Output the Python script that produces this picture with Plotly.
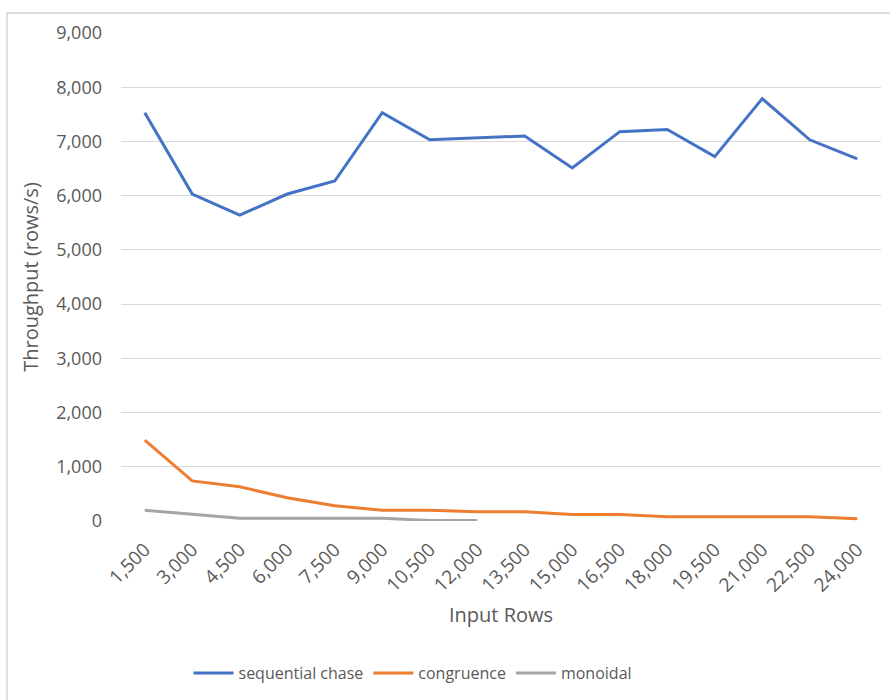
import plotly.graph_objects as go

input_rows = [1500, 3000, 4500, 6000, 7500, 9000, 10500, 12000, 13500, 15000,
              16500, 18000, 19500, 21000, 22500, 24000]
tick_labels = [f"{v:,}" for v in input_rows]

sequential_chase = [7530, 6030, 5640, 6030, 6270, 7530, 7030, 7070, 7100, 6510,
                    7180, 7220, 6720, 7790, 7030, 6680]
congruence = [1490, 740, 630, 430, 280, 200, 200, 170, 170, 120,
              120, 80, 80, 80, 80, 40]
monoidal = [200, 130, 50, 50, 50, 50, 10, 10, None, None,
            None, None, None, None, None, None]

series = [
    ("sequential chase", sequential_chase, "#4472C4"),
    ("congruence", congruence, "#ED7D31"),
    ("monoidal", monoidal, "#A5A5A5"),
]

FONT = "Open Sans"
TXT = "#595959"

fig = go.Figure()
for name, vals, color in series:
    fig.add_trace(go.Scatter(
        x=tick_labels, y=vals, name=name, mode="lines",
        line=dict(color=color, width=3), connectgaps=False,
    ))

L, R, T, B = 121, 9, 33, 179
W, H = 890, 700
pw, ph = W - L - R, H - T - B

def px_x(p):
    return (p - L) / pw

def px_y(p):
    return (H - B - p) / ph

fig.update_layout(
    width=W, height=H,
    margin=dict(l=L, r=R, t=T, b=B),
    paper_bgcolor="white", plot_bgcolor="white",
    font=dict(family=FONT, color=TXT, size=18),
    showlegend=True,
    legend=dict(orientation="h", x=px_x(413), xanchor="center",
                y=px_y(673), yanchor="middle",
                font=dict(size=16, color=TXT), itemwidth=40,
                tracegroupgap=0),
    xaxis=dict(
        type="category", range=[-0.5, len(input_rows) - 0.5],
        showgrid=False, zeroline=False, showline=False,
        tickangle=-45, tickfont=dict(size=19, color=TXT),
        ticks="outside", ticklen=9, tickcolor="rgba(0,0,0,0)",
        title=dict(text="Input Rows", font=dict(size=20, color=TXT), standoff=11),
        fixedrange=True,
    ),
    yaxis=dict(
        range=[0, 9000], dtick=1000, tickformat=",d",
        showgrid=True, gridcolor="#D9D9D9", gridwidth=1.3,
        zeroline=False, showline=False,
        tickfont=dict(size=18, color=TXT), ticklabelstandoff=18,
        title=dict(text="Throughput (rows/s)", font=dict(size=20, color=TXT), standoff=12),
    ),
    shapes=[dict(type="rect", xref="paper", yref="paper",
                 x0=px_x(7), x1=px_x(900), y0=px_y(710), y1=px_y(13),
                 line=dict(color="#D0D0D0", width=1.3), layer="below")],
)

fig.write_html("out.html")
